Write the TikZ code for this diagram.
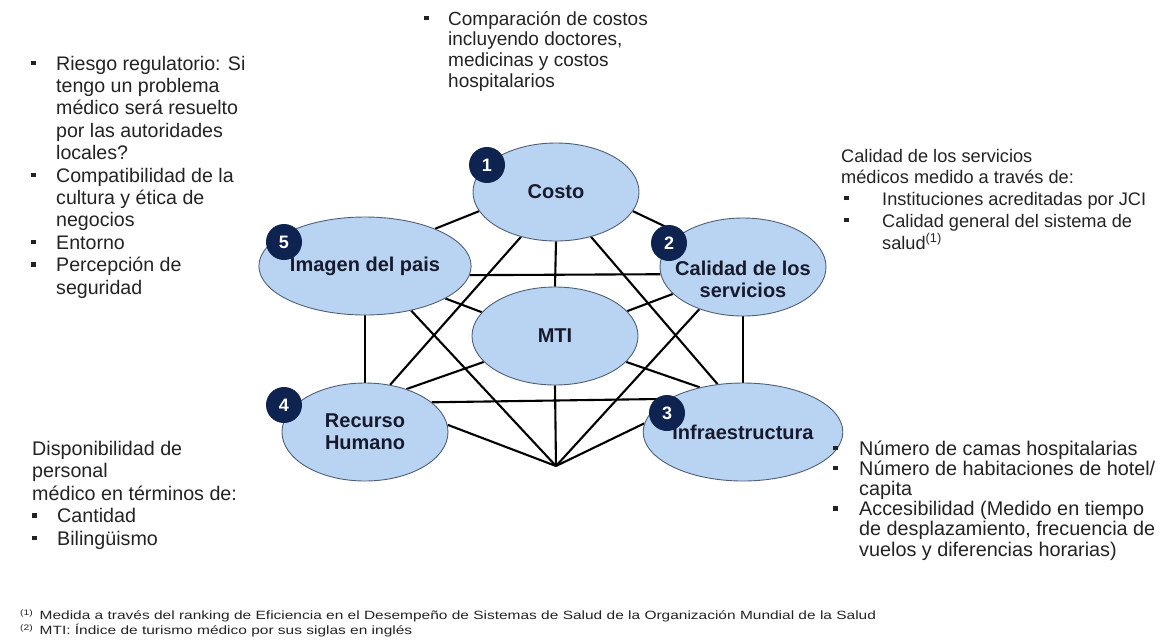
\documentclass[tikz,border=0pt]{standalone}
\usepackage{fontspec}
\setmainfont{Liberation Sans}
\usetikzlibrary{shapes.geometric,backgrounds}
\definecolor{ellfill}{RGB}{185,212,243}
\definecolor{elldraw}{RGB}{80,95,120}
\definecolor{navy}{RGB}{14,35,80}
\definecolor{txt}{RGB}{35,35,35}
\definecolor{lbl}{RGB}{22,26,44}
\newcommand\bitem[1]{\makebox[#1][l]{\rule[5pt]{4.5pt}{4.5pt}}}
\newcommand\cnt[1]{\hspace*{#1}}
\begin{document}
\begin{tikzpicture}[x=1pt,y=-1pt,
  ell/.style={ellipse,draw=elldraw,line width=0.9pt,fill=ellfill,minimum width=166pt,minimum height=98pt,inner sep=0pt,align=center,text=lbl,font=\bfseries\fontsize{20}{22}\selectfont},
  lbltxt/.style={inner sep=0pt,align=center,text=lbl,font=\bfseries\fontsize{20}{22}\selectfont},
  badge/.style={circle,fill=navy,minimum size=36pt,inner sep=0pt,text=white,font=\bfseries\fontsize{18}{18}\selectfont},
  conn/.style={draw=black,line width=2.1pt},
  tb/.style={anchor=base west,inner sep=0pt,text=txt},
  foot/.style={anchor=base west,inner sep=0pt,text=txt,font=\fontsize{12}{15}\selectfont}]
\useasboundingbox (0,0) rectangle (1160,641);
\begin{pgfonlayer}{background}
\fill[white] (0,0) rectangle (1160,641);
\end{pgfonlayer}

% ellipses
\node[ell] (costo) at (556,192) {Costo};
\node[ell] (imagen) at (365,266) {Imagen del pais};
\node[ell] (calidad) at (743,267) {};
\node[lbltxt] (calidadtxt) at (743,279) {Calidad de los\\servicios};
\node[ell] (mti) at (555,336) {MTI};
\node[ell] (recurso) at (365,432) {Recurso\\Humano};
\node[ell] (infra) at (743,432) {Infraestructura};
\coordinate (bot) at (556,466);

% badges
\node[badge] (b1) at (487,165) {1};
\node[badge] (b2) at (669,243) {2};
\node[badge] (b3) at (667,413) {3};
\node[badge] (b4) at (284,405) {4};
\node[badge] (b5) at (284,242) {5};

% connectors
\begin{pgfonlayer}{background}
\draw[conn] (costo.194) -- (imagen.28);
\draw[conn] (costo.-14) -- (calidad.152);
\draw[conn] (costo.south) -- (mti.north);
\draw[conn] (costo.232) -- (recurso.62);
\draw[conn] (costo.-52) -- (infra.118);
\draw[conn] (imagen.-5) -- (calidad.-175);
\draw[conn] (imagen.-22) -- (mti.162);
\draw[conn] (imagen.south) -- (recurso.north);
\draw[conn] (imagen.-44) -- (bot);
\draw[conn] (calidad.224) -- (bot);
\draw[conn] (calidad.south) -- (infra.north);
\draw[conn] (mti.19) -- (calidad.201);
\draw[conn] (mti.-20) -- (infra.134);
\draw[conn] (recurso.46) -- (mti.200);
\draw[conn] (mti.south) -- (bot);
\draw[conn] (recurso.24) -- (infra.156);
\draw[conn] (recurso.5) -- (bot);
\draw[conn] (infra.175) -- (bot);
\end{pgfonlayer}

% text blocks
\node[tb,font=\fontsize{19}{20.7}\selectfont] (ttop) at (424,25) {\begin{tabular}[t]{@{}l@{}}
\bitem{24pt}Comparación de costos\\
\cnt{24pt}incluyendo doctores,\\
\cnt{24pt}medicinas y costos\\
\cnt{24pt}hospitalarios
\end{tabular}};

\node[tb,font=\fontsize{19.6}{22.4}\selectfont] (tleft) at (31,70) {\begin{tabular}[t]{@{}l@{}}
\bitem{25pt}Riesgo regulatorio: Si\\
\cnt{25pt}tengo un problema\\
\cnt{25pt}médico será resuelto\\
\cnt{25pt}por las autoridades\\
\cnt{25pt}locales?\\
\bitem{25pt}Compatibilidad de la\\
\cnt{25pt}cultura y ética de\\
\cnt{25pt}negocios\\
\bitem{25pt}Entorno\\
\bitem{25pt}Percepción de\\
\cnt{25pt}seguridad
\end{tabular}};

\node[tb,font=\fontsize{18.2}{21.7}\selectfont] (tright) at (841,162) {\begin{tabular}[t]{@{}l@{}}
Calidad de los servicios\\
médicos medido a través de:\\
\hspace*{3pt}\bitem{38pt}Instituciones acreditadas por JCI\\
\hspace*{3pt}\bitem{38pt}Calidad general del sistema de\\
\cnt{41pt}salud\textsuperscript{(1)}
\end{tabular}};

\node[tb,font=\fontsize{19.7}{22.5}\selectfont] (tlb) at (32,455) {\begin{tabular}[t]{@{}l@{}}
Disponibilidad de\\
personal\\
médico en términos de:\\
\bitem{25pt}Cantidad\\
\bitem{25pt}Bilingüismo
\end{tabular}};

\node[tb,font=\fontsize{19.8}{19.4}\selectfont] (trb) at (833,455) {\begin{tabular}[t]{@{}l@{}}
\bitem{26pt}Número de camas hospitalarias\\
\bitem{26pt}Número de habitaciones de hotel/\\
\cnt{26pt}capita\\
\bitem{26pt}Accesibilidad (Medido en tiempo\\
\cnt{26pt}de desplazamiento, frecuencia de\\
\cnt{26pt}vuelos y diferencias horarias)
\end{tabular}};

% footnotes
\node[foot] (f1) at (20,619.5) {\scalebox{1.29}[1]{\textsuperscript{(1)}\hspace{1.5pt} Medida a través del ranking de Eficiencia en el Desempeño de Sistemas de Salud de la Organización Mundial de la Salud}};
\node[foot] (f2) at (20,634.5) {\scalebox{1.29}[1]{\textsuperscript{(2)}\hspace{1.5pt} MTI: Índice de turismo médico por sus siglas en inglés}};
\end{tikzpicture}
\end{document}
